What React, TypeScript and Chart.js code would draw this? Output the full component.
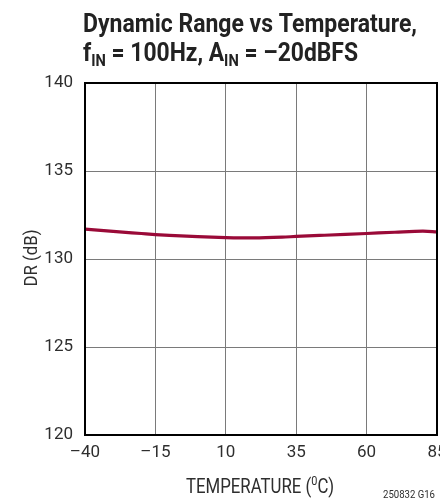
import React, { useEffect, useRef } from "react";
import { Chart, registerables } from "chart.js";

Chart.register(...registerables);

const temperatures = [-40, -30, -20, -15, -10, 0, 10, 20, 30, 35, 45, 60, 70, 80, 85];
const drValues = [131.7, 131.57, 131.45, 131.39, 131.34, 131.27, 131.22, 131.2, 131.24, 131.28, 131.35, 131.45, 131.52, 131.58, 131.54];
const xTickValues = [-40, -15, 10, 35, 60, 85];
const yTickValues = [120, 125, 130, 135, 140];

const FONT = "Roboto, 'DejaVu Sans Condensed', sans-serif";
const TEXT_COLOR = "#2e2e2e";

type Seg = { t: string; font: string; dy: number };

function drawFitted(ctx: CanvasRenderingContext2D, segs: Seg[], x: number, y: number, width: number, align: "left" | "center" | "right" = "left") {
  let total = 0;
  for (const s of segs) {
    ctx.font = s.font;
    total += ctx.measureText(s.t).width;
  }
  const k = width / total;
  let x0 = x;
  if (align === "center") x0 = x - width / 2;
  if (align === "right") x0 = x - width;
  ctx.save();
  ctx.translate(x0, y);
  ctx.scale(k, 1);
  ctx.textAlign = "left";
  ctx.textBaseline = "alphabetic";
  let cx = 0;
  for (const s of segs) {
    ctx.font = s.font;
    ctx.fillText(s.t, cx, s.dy);
    cx += ctx.measureText(s.t).width;
  }
  ctx.restore();
}

const annotationPlugin = {
  id: "annotations",
  afterDraw(chart: any) {
    const { ctx, chartArea } = chart;
    const { left, right, top, bottom } = chartArea;
    ctx.save();
    // frame
    ctx.strokeStyle = "#000";
    ctx.lineWidth = 2;
    ctx.strokeRect(left, top, right - left, bottom - top);

    // title
    ctx.fillStyle = "#222";
    const big = `bold 25px ${FONT}`;
    const small = `bold 16px ${FONT}`;
    drawFitted(ctx, [{ t: "Dynamic Range vs Temperature,", font: big, dy: 0 }], 83, 32, 334);
    drawFitted(
      ctx,
      [
        { t: "f", font: big, dy: 0 },
        { t: "IN", font: small, dy: 5 },
        { t: " = 100Hz, A", font: big, dy: 0 },
        { t: "IN", font: small, dy: 5 },
        { t: " = \u201320dBFS", font: big, dy: 0 },
      ],
      83,
      61,
      275
    );

    // x axis title
    ctx.fillStyle = TEXT_COLOR;
    drawFitted(
      ctx,
      [
        { t: "TEMPERATURE (", font: `20px ${FONT}`, dy: 0 },
        { t: "0", font: `13px ${FONT}`, dy: -8 },
        { t: "C)", font: `20px ${FONT}`, dy: 0 },
      ],
      260,
      492.5,
      148,
      "center"
    );

    // y axis title
    ctx.save();
    ctx.translate(37, 258);
    ctx.rotate(-Math.PI / 2);
    drawFitted(ctx, [{ t: "DR (dB)", font: `18px ${FONT}`, dy: 0 }], 0, 0, 57, "center");
    ctx.restore();

    // figure code
    drawFitted(ctx, [{ t: "250832 G16", font: `11px ${FONT}`, dy: 0 }], 435, 498, 52, "right");
    ctx.restore();
  },
};

export default function App() {
  const canvasRef = useRef<HTMLCanvasElement | null>(null);

  useEffect(() => {
    document.body.style.margin = "0";
    const canvas = canvasRef.current;
    if (!canvas) return;
    const chart = new Chart(canvas, {
      type: "line",
      data: {
        datasets: [
          {
            data: temperatures.map((t, i) => ({ x: t, y: drValues[i] })),
            borderColor: "#9a0a38",
            borderWidth: 3.2,
            pointRadius: 0,
            tension: 0.4,
            cubicInterpolationMode: "monotone",
            fill: false,
          },
        ],
      },
      options: {
        animation: false,
        responsive: false,
        maintainAspectRatio: false,
        devicePixelRatio: 1,
        layout: { padding: { top: 83, left: 0, right: 23, bottom: 0 } },
        plugins: { legend: { display: false }, tooltip: { enabled: false }, title: { display: false } },
        scales: {
          x: {
            type: "linear",
            min: -40,
            max: 85,
            afterBuildTicks: (scale: any) => {
              scale.ticks = xTickValues.map((v) => ({ value: v }));
            },
            afterFit: (scale: any) => {
              scale.height = 67;
            },
            grid: { color: "#7a7a7a", lineWidth: 1, drawTicks: false },
            border: { display: false },
            ticks: {
              color: TEXT_COLOR,
              font: { family: FONT, size: 17 },
              padding: 8,
              maxRotation: 0,
              autoSkip: false,
              callback: (v: any) => (Number(v) < 0 ? "\u2013" + Math.abs(Number(v)) : String(v)),
            },
          },
          y: {
            type: "linear",
            min: 120,
            max: 140,
            afterBuildTicks: (scale: any) => {
              scale.ticks = yTickValues.map((v) => ({ value: v }));
            },
            afterFit: (scale: any) => {
              scale.width = 85;
            },
            grid: { color: "#7a7a7a", lineWidth: 1, drawTicks: false },
            border: { display: false },
            ticks: {
              color: TEXT_COLOR,
              font: { family: FONT, size: 17 },
              padding: 12,
              autoSkip: false,
            },
          },
        },
      },
      plugins: [annotationPlugin],
    } as any);
    return () => chart.destroy();
  }, []);

  return (
    <div style={{ position: "fixed", left: 0, top: 0, width: 440, height: 502, overflow: "hidden", background: "#fff" }}>
      <canvas ref={canvasRef} width={460} height={502} style={{ width: 460, height: 502, display: "block" }} />
    </div>
  );
}
